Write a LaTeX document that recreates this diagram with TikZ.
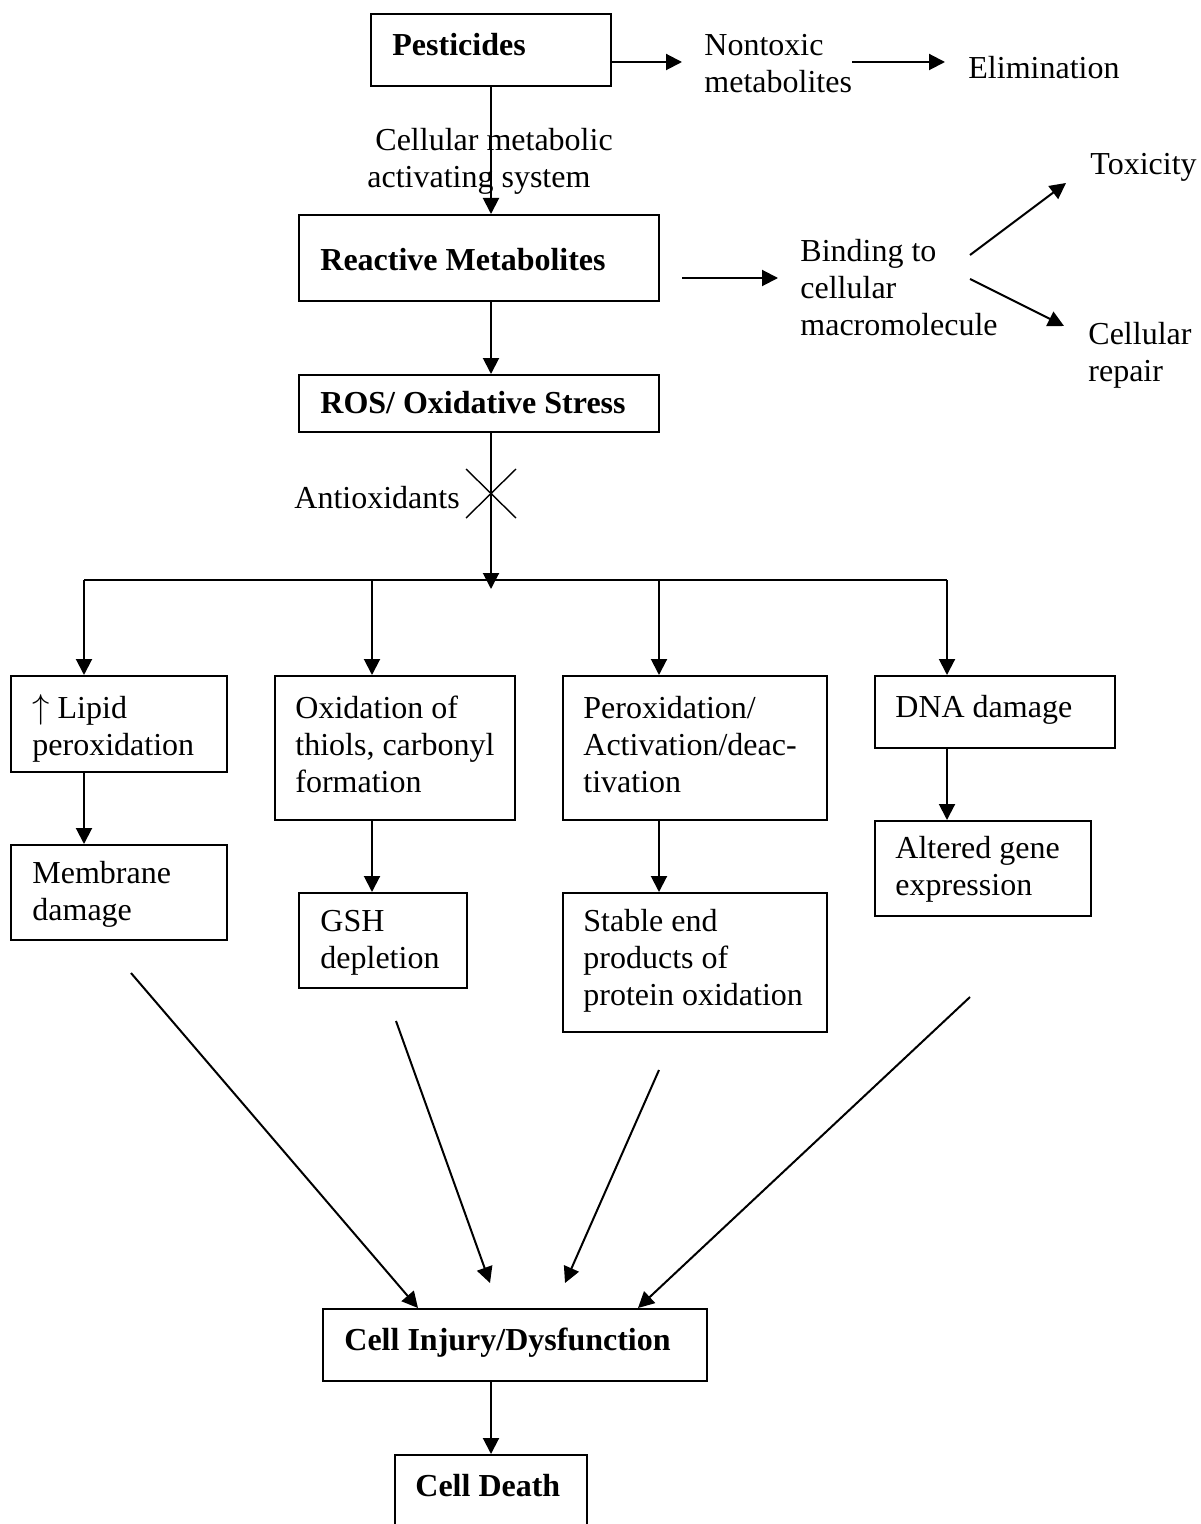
\documentclass[tikz,border=0pt]{standalone}
\usepackage{fontspec}
\setmainfont{Liberation Serif}
\usetikzlibrary{arrows.meta}
\begin{document}
\begin{tikzpicture}[x=0.5pt,y=-0.5pt,
  every node/.style={font=\fontsize{16pt}{18.5pt}\selectfont},
  box/.style={draw, line width=1pt, rectangle, inner sep=0pt},
  txt/.style={anchor=north west, inner sep=0pt, align=left},
  arr/.style={line width=1pt, -{Triangle[length=8pt,width=8pt]}},
  ln/.style={line width=1pt}]
\useasboundingbox (0,0) rectangle (1200,1524);
\clip (0,0) rectangle (1200,1524);
\fill[white] (0,0) rectangle (1200,1524);
% boxes
\node[box, minimum width=120pt, minimum height=36pt] (pest) at (491,50) {};
\node[box, minimum width=180pt, minimum height=43pt] (react) at (479,258) {};
\node[box, minimum width=180pt, minimum height=28.5pt] (ros) at (479,403.5) {};
\node[box, minimum width=108pt, minimum height=48pt] (lipid) at (119,724) {};
\node[box, minimum width=120pt, minimum height=72pt] (oxid) at (395,748) {};
\node[box, minimum width=132pt, minimum height=72pt] (perox) at (695,748) {};
\node[box, minimum width=120pt, minimum height=36pt] (dna) at (995,712) {};
\node[box, minimum width=108pt, minimum height=47.5pt] (memb) at (119,892.5) {};
\node[box, minimum width=84pt, minimum height=47.5pt] (gsh) at (383,940.5) {};
\node[box, minimum width=132pt, minimum height=69.5pt] (stable) at (695,962.5) {};
\node[box, minimum width=108pt, minimum height=47.5pt] (altered) at (983,868.5) {};
\node[box, minimum width=192pt, minimum height=36pt] (injury) at (515,1345) {};
\node[box, minimum width=96pt, minimum height=45pt] (death) at (491,1500) {};
% box texts
\node[txt] (tpest) at (392,29) {\strut\textbf{Pesticides}};
\node[txt] (treact) at (320,244) {\strut\textbf{Reactive Metabolites}};
\node[txt] (tros) at (320,387) {\strut\textbf{ROS/ Oxidative Stress}};
\node[txt] (tlipid) at (32,692) {\strut$\uparrow$ Lipid\\peroxidation};
\node[txt] (toxid) at (295,692) {\strut Oxidation of\\thiols, carbonyl\\formation};
\node[txt] (tperox) at (583,692) {\strut Peroxidation/\\Activation/deac-\\tivation};
\node[txt] (tdna) at (895,691) {\strut DNA damage};
\node[txt] (tmemb) at (32,857) {\strut Membrane\\damage};
\node[txt] (tgsh) at (320,905) {\strut GSH\\depletion};
\node[txt] (tstable) at (583,905) {\strut Stable end\\products of\\protein oxidation};
\node[txt] (taltered) at (895,832) {\strut Altered gene\\expression};
\node[txt] (tinjury) at (344,1324) {\strut\textbf{Cell Injury/Dysfunction}};
\node[txt] (tdeath) at (415,1470) {\strut\textbf{Cell Death}};
% free texts
\node[txt] (ntx) at (704,29) {\strut Nontoxic\\metabolites};
\node[txt] (elim) at (968,52) {\strut Elimination};
\node[txt] (cms) at (367,124) {\strut\hspace{0.25em}Cellular metabolic\\activating system};
\node[txt] (bind) at (800,235) {\strut Binding to\\cellular\\macromolecule};
\node[txt] (tox) at (1090,148) {\strut Toxicity};
\node[txt] (rep) at (1088,318) {\strut Cellular\\repair};
\node[txt] (anti) at (294,482) {\strut Antioxidants};
% coordinates
\coordinate (a1) at (682,62);
\coordinate (a2s) at (852,62);
\coordinate (a2e) at (945,62);
\coordinate (a3s) at (682,278);
\coordinate (a3e) at (778,278);
\coordinate (t1s) at (970,255);
\coordinate (t1e) at (1066,183);
\coordinate (t2s) at (970,279);
\coordinate (t2e) at (1064,326);
\coordinate (busc) at (491,589);
\coordinate (b1) at (84,580);
\coordinate (b2) at (372,580);
\coordinate (b3) at (659,580);
\coordinate (b4) at (947,580);
\coordinate (d1s) at (131,973);
\coordinate (d1e) at (418,1308);
\coordinate (d2s) at (396,1021);
\coordinate (d2e) at (490,1283);
\coordinate (d3s) at (659,1070);
\coordinate (d3e) at (565,1283);
\coordinate (d4s) at (970,997);
\coordinate (d4e) at (638,1308);
% connectors
\draw[arr] (pest.east |- a1) -- (a1);
\draw[arr] (a2s) -- (a2e);
\draw[arr] (pest.south) -- (pest.south |- react.north);
\draw[arr] (a3s) -- (a3e);
\draw[arr] (t1s) -- (t1e);
\draw[arr] (t2s) -- (t2e);
\draw[arr] (pest.south |- react.south) -- (pest.south |- ros.north);
\draw[arr] (pest.south |- ros.south) -- (busc);
\draw[line width=0.7pt] (466,469) -- (516,518) (516,469) -- (466,518);
\draw[ln] (b1) -- (b4);
\draw[arr] (b1) -- (b1 |- lipid.north);
\draw[arr] (b2) -- (b2 |- oxid.north);
\draw[arr] (b3) -- (b3 |- perox.north);
\draw[arr] (b4) -- (b4 |- dna.north);
\draw[arr] (b1 |- lipid.south) -- (b1 |- memb.north);
\draw[arr] (b2 |- oxid.south) -- (b2 |- gsh.north);
\draw[arr] (b3 |- perox.south) -- (b3 |- stable.north);
\draw[arr] (b4 |- dna.south) -- (b4 |- altered.north);
\draw[arr] (d1s) -- (d1e);
\draw[arr] (d2s) -- (d2e);
\draw[arr] (d3s) -- (d3e);
\draw[arr] (d4s) -- (d4e);
\draw[arr] (injury.south -| death.north) -- (death.north);
\end{tikzpicture}
\end{document}
